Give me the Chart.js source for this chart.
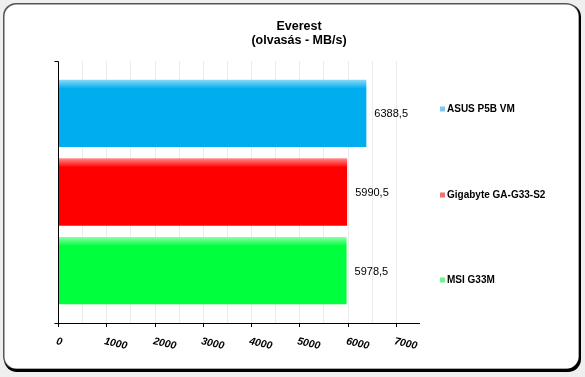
<!DOCTYPE html>
<html>
<head>
<meta charset="utf-8">
<script src="https://cdn.jsdelivr.net/npm/chart.js@4.4.0/dist/chart.umd.min.js"></script>
<style>
  html, body { margin: 0; padding: 0; background: #efefef; }
  #wrap { position: relative; width: 585px; height: 377px; }
</style>
</head>
<body>
<div id="wrap"><canvas id="chart"></canvas></div>
<script>
// Everest olvasás (MB/s)

const alaplapok = ['ASUS P5B VM', 'Gigabyte GA-G33-S2', 'MSI G33M'];
const olvasas = [6388.5, 5990.5, 5978.5];
const xTicks = [0, 1000, 2000, 3000, 4000, 5000, 6000, 7000];
const barColors = ['#00adef', '#ff0000', '#00ff3c'];
const legendColors = ['#7ec9ee', '#f07373', '#74f08e'];

const FONT = 'Arial, "Liberation Sans", sans-serif';

// keret, cím, rács, tengelyek, feliratok
const kozos = {
    id: 'kozos',
    beforeDraw(chart) {
        const c = chart.ctx;
        c.save();
        // vastag jobb-alsó keret
        c.beginPath();
        c.roundRect(4, 4, 577, 368, 13);
        c.fillStyle = '#000';
        c.fill();
        c.beginPath();
        c.roundRect(3, 3, 576, 366, 13);
        c.fillStyle = '#555';
        c.fill();
        c.beginPath();
        c.roundRect(4.5, 4.5, 574, 364, 12);
        c.fillStyle = '#fff';
        c.fill();

        // cím
        c.fillStyle = '#000';
        c.font = 'bold 12.5px ' + FONT;
        c.textAlign = 'center';
        c.textBaseline = 'middle';
        c.fillText('Everest', 299, 27);
        c.fillText('(olvasás - MB/s)', 299, 41);

        // rács
        const x = chart.scales.x;
        c.strokeStyle = '#ebebeb';
        c.lineWidth = 1;
        for (let v = 500; v <= 7000; v += 500) {
            const px = Math.round(x.getPixelForValue(v)) + 0.5;
            c.beginPath();
            c.moveTo(px, 61);
            c.lineTo(px, 323);
            c.stroke();
        }
        c.restore();
    },
    afterDatasetsDraw(chart) {
        const c = chart.ctx;
        const x = chart.scales.x;
        c.save();
        // tengelyek
        const x0 = Math.round(x.getPixelForValue(0)) + 0.5;
        c.strokeStyle = '#000';
        c.lineWidth = 1;
        c.beginPath();
        c.moveTo(x0 - 4, 61.5);
        c.lineTo(x0, 61.5);
        c.lineTo(x0, 323.5);
        c.moveTo(x0 - 4, 323.5);
        c.lineTo(x.getPixelForValue(7500), 323.5);
        c.stroke();
        c.font = 'bold italic 10.5px ' + FONT;
        c.fillStyle = '#000';
        c.textAlign = 'left';
        c.textBaseline = 'top';
        xTicks.forEach(v => {
            const px = Math.round(x.getPixelForValue(v)) + 0.5;
            c.beginPath();
            c.moveTo(px, 323);
            c.lineTo(px, 327);
            c.stroke();
            c.save();
            c.translate(px - 1, 336);
            c.rotate(13 * Math.PI / 180);
            c.fillText(String(v), 0, 0);
            c.restore();
        });

        // értékek
        c.font = '11px ' + FONT;
        c.textBaseline = 'middle';
        const meta = chart.getDatasetMeta(0);
        meta.data.forEach((bar, i) => {
            c.fillText(olvasas[i].toFixed(1).replace('.', ','), bar.x + 8, bar.y + 1);
        });

        // jelmagyarázat
        const legendY = [109, 195, 280];
        c.font = 'bold 10px ' + FONT;
        alaplapok.forEach((nev, i) => {
            c.fillStyle = legendColors[i];
            c.fillRect(440, legendY[i] - 2.5, 5, 5);
            c.fillStyle = '#000';
            c.fillText(nev, 447, legendY[i]);
        });
        c.restore();
    }
};

function barFill(ctx) {
    const chart = ctx.chart;
    const base = barColors[ctx.dataIndex];
    if (!chart.chartArea) return base;
    const y = chart.scales.y;
    const band = Math.abs(y.getPixelForValue(1) - y.getPixelForValue(0));
    const top = y.getPixelForValue(ctx.dataIndex) - band * 0.855 / 2;
    const g = chart.ctx.createLinearGradient(0, top, 0, top + 9);
    g.addColorStop(0, Chart.helpers.color(base).mix(Chart.helpers.color('#ffffff'), 0.45).rgbString());
    g.addColorStop(1, base);
    return g;
}

new Chart(document.getElementById('chart'), {
    type: 'bar',
    data: {
        labels: alaplapok,
        datasets: [{
            data: olvasas,
            backgroundColor: barFill,
            borderWidth: 0,
            barPercentage: 0.855,
            categoryPercentage: 1
        }]
    },
    options: {
        indexAxis: 'y',
        responsive: true,
        maintainAspectRatio: false,
        animation: false,
        layout: {
            padding: { left: 58, right: 165, top: 74, bottom: 67 }
        },
        scales: {
            x: { display: false, min: 0, max: 7500 },
            y: { display: false }
        },
        plugins: {
            legend: { display: false },
            title: { display: false },
            tooltip: { enabled: false }
        }
    },
    plugins: [kozos]
});
</script>
</body>
</html>
